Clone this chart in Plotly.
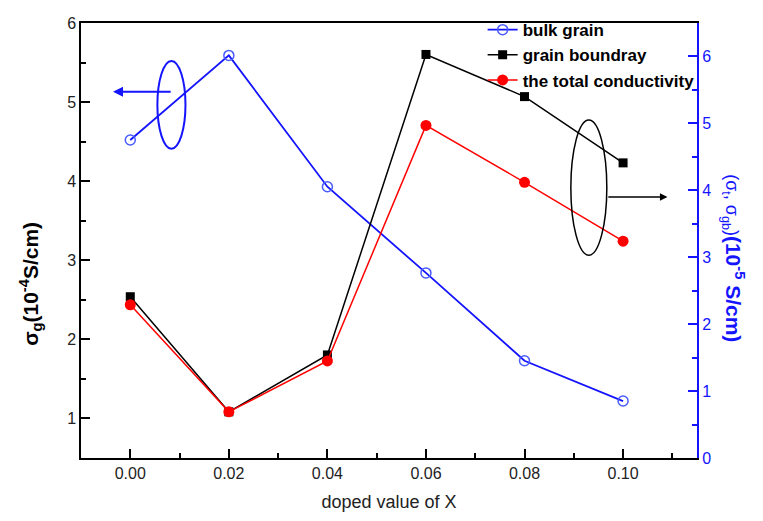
import plotly.graph_objects as go

# ---- data ----
x_vals = [0.00, 0.02, 0.04, 0.06, 0.08, 0.10]
bulk_grain = [4.52, 5.59, 3.93, 2.84, 1.73, 1.22]          # left axis, 10^-4 S/cm
grain_boundary = [2.41, 0.69, 1.54, 6.03, 5.40, 4.41]      # right axis, 10^-5 S/cm
total_cond = [2.29, 0.69, 1.45, 4.97, 4.12, 3.24]          # right axis, 10^-5 S/cm
x_ticks = [0.00, 0.02, 0.04, 0.06, 0.08, 0.10]
x_ticklabels = ["0.00", "0.02", "0.04", "0.06", "0.08", "0.10"]

FONT = "Arial, Liberation Sans, sans-serif"
BLUE = "#1414ff"

fig = go.Figure()
fig.add_trace(go.Scatter(
    x=x_vals, y=bulk_grain, name="bulk grain", mode="lines+markers",
    line=dict(color=BLUE, width=1.8),
    marker=dict(symbol="circle-open", size=10, color="#4a5cff", line=dict(width=1.5)),
    yaxis="y"))
fig.add_trace(go.Scatter(
    x=x_vals, y=grain_boundary, name="grain boundray", mode="lines+markers",
    line=dict(color="black", width=1.5),
    marker=dict(symbol="square", size=9, color="black"),
    yaxis="y2"))
fig.add_trace(go.Scatter(
    x=x_vals, y=total_cond, name="the total conductivity", mode="lines+markers",
    line=dict(color="red", width=1.5),
    marker=dict(symbol="circle", size=11, color="red"),
    yaxis="y2"))

# decorations: ellipses and arrows (data coordinates)
fig.add_shape(type="circle", xref="x", yref="y", x0=0.0055, x1=0.0112, y0=4.41, y1=5.52,
              line=dict(color=BLUE, width=2))
fig.add_annotation(xref="x", yref="y", axref="x", ayref="y", x=-0.0035, y=5.13,
                   ax=0.0085, ay=5.13, text="", showarrow=True, arrowhead=2,
                   arrowsize=1, arrowwidth=2, arrowcolor=BLUE)
fig.add_shape(type="circle", xref="x", yref="y2", x0=0.0894, x1=0.0967, y0=3.03, y1=5.05,
              line=dict(color="black", width=1.5))
fig.add_annotation(xref="x", yref="y2", axref="x", ayref="y2", x=0.1090, y=3.90,
                   ax=0.0967, ay=3.90, text="", showarrow=True, arrowhead=2,
                   arrowsize=1, arrowwidth=1.5, arrowcolor="black")

# axis titles as annotations
fig.add_annotation(xref="paper", yref="paper", x=-0.083, y=0.40, textangle=-90,
                   xanchor="center", yanchor="middle", showarrow=False,
                   text="<b>σ<sub>g</sub>(10<sup>-4</sup>S/cm)</b>",
                   font=dict(family=FONT, size=21, color="black"))
fig.add_annotation(xref="paper", yref="paper", x=1.058, y=0.46, textangle=90,
                   xanchor="center", yanchor="middle", showarrow=False,
                   text="<span style='font-size:18px'>(σ<sub>t</sub>, σ<sub>gb</sub>)</span><b>(10<sup>-5</sup> S/cm)</b>",
                   font=dict(family=FONT, size=21, color=BLUE))

fig.update_layout(
    width=763, height=521,
    margin=dict(l=81, r=66, t=21, b=61),
    plot_bgcolor="white", paper_bgcolor="white",
    font=dict(family=FONT, size=16, color="#222"),
    showlegend=True,
    legend=dict(x=0.652, y=1.025, xanchor="left", yanchor="top",
                bgcolor="rgba(0,0,0,0)", font=dict(family=FONT, size=17, color="black", weight="bold"),
                tracegroupgap=0, itemwidth=30),
    xaxis=dict(range=[-0.01, 0.115], tickvals=x_ticks, ticktext=x_ticklabels,
               showgrid=False, zeroline=False, showline=True, linecolor="black", linewidth=1.5,
               mirror=True, ticks="inside", ticklen=9, tickwidth=1.5, tickcolor="black",
               minor=dict(dtick=0.01, ticks="inside", ticklen=5, tickwidth=1.5, tickcolor="black"),
               title=dict(text="doped value of X", font=dict(size=18, color="#222"), standoff=14),
               tickfont=dict(size=16)),
    yaxis=dict(range=[0.5, 6], tickvals=[1, 2, 3, 4, 5, 6],
               showgrid=False, zeroline=False, showline=True, linecolor="black", linewidth=1.5,
               ticks="inside", ticklen=9, tickwidth=1.5, tickcolor="black",
               minor=dict(dtick=0.5, ticks="inside", ticklen=5, tickwidth=1.5, tickcolor="black"),
               tickfont=dict(size=16)),
    yaxis2=dict(range=[0, 6.5], tickvals=[0, 1, 2, 3, 4, 5, 6], overlaying="y", side="right",
                showgrid=False, zeroline=False, showline=True, linecolor=BLUE, linewidth=2,
                ticks="inside", ticklen=9, tickwidth=1.5, tickcolor=BLUE,
                minor=dict(dtick=0.5, ticks="inside", ticklen=5, tickwidth=1.5, tickcolor=BLUE),
                tickfont=dict(size=16, color=BLUE)),
)

fig.write_html("out.html")
